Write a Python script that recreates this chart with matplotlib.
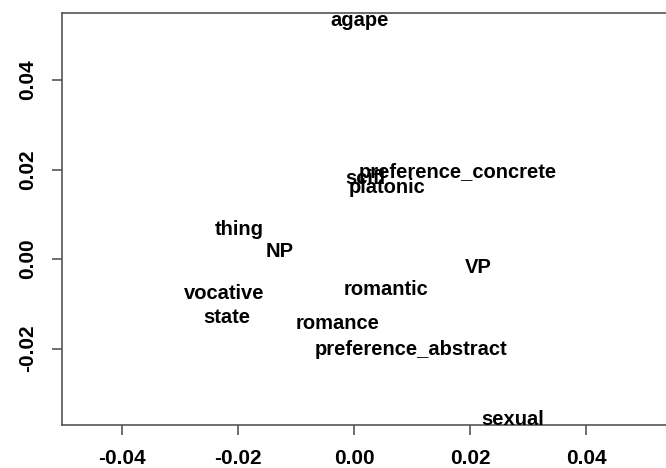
import matplotlib
matplotlib.use("Agg")
import matplotlib.pyplot as plt

# word positions
words = ["agape", "preference_concrete", "scifi", "platonic", "thing", "NP",
         "VP", "vocative", "romantic", "state", "romance",
         "preference_abstract", "sexual"]
xs = [0.0010, 0.0178, 0.0019, 0.0057, -0.0197, -0.0128,
      0.0214, -0.0224, 0.0055, -0.0219, -0.0029,
      0.0098, 0.0274]
ys = [0.0534, 0.0194, 0.0181, 0.0161, 0.0067, 0.0016,
      -0.0020, -0.0076, -0.0067, -0.0130, -0.0143,
      -0.0203, -0.0358]

xticks = [-0.04, -0.02, 0.00, 0.02, 0.04]
yticks = [-0.02, 0.00, 0.02, 0.04]

def main():
    W, H = 666, 468
    fig = plt.figure(figsize=(W / 100, H / 100), dpi=100)
    ax = fig.add_axes([62 / W, (H - 425) / H, (668 - 62) / W, (425 - 13) / H])

    font = "Liberation Sans"
    for w, x, y in zip(words, xs, ys):
        ax.text(x, y, w, ha="center", va="center", fontsize=14.5,
                fontweight="bold", family=font, color="black")

    ax.set_xlim(-0.0503, 0.0541)
    ax.set_ylim(-0.0371, 0.0550)

    ax.set_xticks(xticks)
    ax.set_xticklabels(["%.2f" % t for t in xticks])
    ax.set_yticks(yticks)
    ax.set_yticklabels(["%.2f" % t for t in yticks], rotation=90, va="center")

    for lab in ax.get_xticklabels() + ax.get_yticklabels():
        lab.set_family(font)
        lab.set_fontweight("bold")
        lab.set_fontsize(15)

    ax.tick_params(direction="out", length=7, width=1.2, color="#555555")
    ax.tick_params(axis="x", pad=10)
    ax.tick_params(axis="y", pad=11)
    for s in ax.spines.values():
        s.set_color("#555555")
        s.set_linewidth(1.2)
    ax.spines["right"].set_visible(False)

    fig.savefig("out.png", dpi=100)

if __name__ == "__main__":
    main()
